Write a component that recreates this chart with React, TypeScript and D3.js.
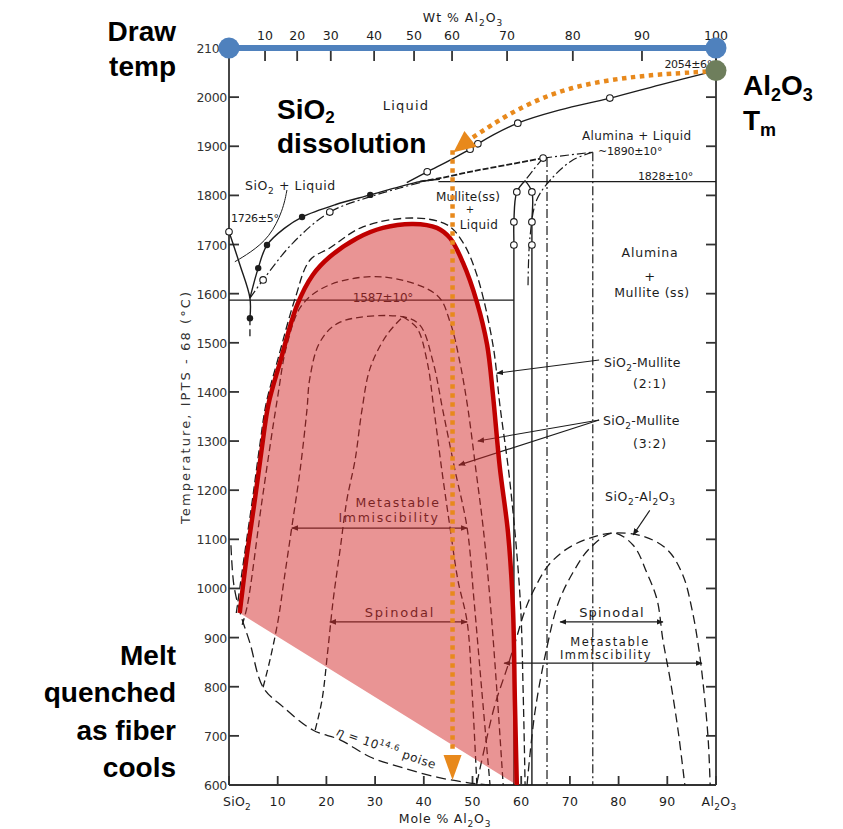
import React from "react";
import * as d3 from "d3";

type P = [number, number];

// ---- axes ----
const tempTicks = [600, 700, 800, 900, 1000, 1100, 1200, 1300, 1400, 1500, 1600, 1700, 1800, 1900, 2000, 2100];
const moleTicks = [0, 10, 20, 30, 40, 50, 60, 70, 80, 90, 100];
const moleTickLabels = ["SiO2", "10", "20", "30", "40", "50", "60", "70", "80", "90", "Al2O3"];
const wtTickLabels = ["10", "20", "30", "40", "50", "60", "70", "80", "90", "100"];
// positions of the wt% ticks on the mole % scale
const wtTickMole = [7.4, 14.0, 20.9, 29.8, 38.0, 45.8, 57.1, 70.6, 84.8, 100];

// ---- liquidus / solid phase boundaries (mole % Al2O3, °C) ----
const sio2Liquidus: P[] = [[0, 1726], [2.2, 1660], [4.3, 1591], [4.3, 1550]];
const eutecticTail: P[] = [[4.3, 1550], [4.3, 1508]];
const liquidusStable: P[] = [[4.3, 1591], [6.0, 1652], [7.8, 1699], [11.5, 1734], [15.0, 1756], [21.8, 1781], [29.0, 1801], [35.1, 1818], [39.2, 1828], [43.3, 1833]];
const liquidusMeta: P[] = [[4.3, 1591], [7.0, 1628], [13.1, 1703], [20.7, 1766], [28.9, 1797], [35.1, 1815], [39.2, 1826]];
const aluminaLiquidus: P[] = [[36.5, 1826], [40.7, 1848], [45.4, 1872], [49.5, 1894], [51.1, 1905], [59.3, 1947], [68, 1974], [78.2, 1998], [88.5, 2025], [100, 2054]];
const mulliteMetaLiquidus: P[] = [[39.2, 1828], [43.3, 1835], [50, 1849], [57, 1862], [64.5, 1876]];
const line1587: P[] = [[0, 1587], [58.5, 1587]];
const line1828: P[] = [[43, 1828], [100, 1828]];
const mulliteLeft: P[] = [[60.8, 1830], [59.1, 1807], [58.5, 1746], [58.5, 1699], [58.5, 600]];
const mulliteRight: P[] = [[60.8, 1830], [62.2, 1807], [62.2, 1746], [62.2, 1699], [62.2, 600]];
const dashDotV1: P[] = [[65.3, 1876], [65.3, 600]];
const dashDotV2: P[] = [[74.7, 1888], [74.7, 600]];
const dashDotTop: P[] = [[64.5, 1876], [74.7, 1888]];
const dashDotCurveA: P[] = [[74.7, 1888], [70.6, 1872], [66.5, 1837], [63.2, 1791], [61.8, 1715], [61.4, 1614]];
const dashDotCurveB: P[] = [[64.5, 1876], [62.5, 1852], [60.8, 1830]];
const sio2LiquidLeader: P[] = [[11.9, 1811], [11.1, 1770], [8.4, 1715], [4.3, 1683], [1.2, 1665]];
const filledDots: P[] = [[4.3, 1550], [6.0, 1652], [7.8, 1699], [15.0, 1756], [29.0, 1801]];
const openCircles: P[] = [[0, 1726], [7.0, 1628], [20.7, 1766], [40.7, 1848], [49.5, 1894], [51.1, 1905], [59.3, 1947], [78.2, 1998], [64.5, 1876], [59.1, 1807], [58.5, 1746], [58.5, 1699], [62.2, 1807], [62.2, 1746], [62.2, 1699]];

// ---- metastable immiscibility domes ----
const dome21: P[] = [[1.5, 950], [3.2, 1070], [4.8, 1180], [6.3, 1290], [7.6, 1375], [10.0, 1465], [13.6, 1591], [16.6, 1668], [20.7, 1693], [27.5, 1736], [37.8, 1754], [44.8, 1740], [48.0, 1705], [50.9, 1638], [54.2, 1496], [55.6, 1375], [57.7, 1215], [59.8, 977], [60.4, 790], [60.8, 600]];
const dome32a: P[] = [[2.7, 926], [3.7, 962], [6.8, 1180], [9.9, 1384], [11.9, 1496], [15.0, 1577], [20.7, 1618], [31.6, 1634], [42.7, 1597], [45.4, 1542], [47.4, 1461], [49.1, 1363], [50.7, 1241], [52.2, 1123], [53.6, 977], [55.0, 793], [56.3, 600]];
const dome32b: P[] = [[7.0, 799], [8.4, 854], [10.1, 936], [11.3, 1017], [12.9, 1125], [14.6, 1241], [16.0, 1363], [16.6, 1428], [18.7, 1502], [22.8, 1542], [35.7, 1553], [39.2, 1536], [41.9, 1461], [43.9, 1363], [46.4, 1241], [48.9, 1123], [50.3, 977], [51.9, 793], [53.6, 600]];
const spinodalLeftA: P[] = [[17.7, 712], [19.1, 773], [20.3, 875], [21.4, 977], [22.8, 1078], [24.2, 1180], [25.9, 1262], [27.3, 1363], [29.0, 1449], [32.4, 1516], [35.7, 1553]];
const spinodalRightA: P[] = [[35.7, 1553], [38.6, 1530], [40.7, 1461], [42.1, 1363], [43.7, 1241], [45.4, 1123], [47.0, 1017], [48.9, 932], [49.9, 793], [50.9, 600]];
const viscosity: P[] = [[0.4, 1088], [1.0, 1007], [2.3, 950], [4.3, 889], [7.0, 799], [11.1, 759], [17.2, 712], [22.8, 692], [29.0, 657], [35.7, 635], [42.7, 616], [49.5, 604], [53.6, 600]];
const aluminaDome: P[] = [[50.9, 604], [52.6, 681], [54.6, 763], [57.3, 844], [58.9, 895], [60.8, 956], [62.8, 1001], [65.5, 1046], [69.0, 1078], [73.1, 1099], [78.9, 1113], [85.4, 1105], [90.1, 1078], [93.2, 1027], [95.1, 956], [96.5, 875], [97.5, 793], [98.4, 692], [98.8, 600]];
const aluminaSpinodal: P[] = [[61.2, 600], [62.8, 747], [65.3, 881], [67.6, 970], [70.6, 1032], [74.1, 1082], [78.9, 1113], [83.0, 1088], [85.8, 1032], [87.9, 977], [89.1, 895], [90.6, 814], [92.2, 712], [93.6, 600]];

// ---- arrows & leaders ----
const immiscArrowL: P[] = [[12.9, 1123], [48.9, 1123]];
const spinodalArrowL: P[] = [[20.7, 932], [48.9, 932]];
const spinodalArrowR: P[] = [[68.0, 932], [89.1, 932]];
const immiscArrowR: P[] = [[56.5, 848], [97.1, 848]];
const leader21: P[] = [[76.0, 1465], [55.0, 1438]];
const leader32a: P[] = [[76.0, 1343], [51.1, 1300]];
const leader32b: P[] = [[76.0, 1343], [47.2, 1251]];
const leaderAl: P[] = [[86.4, 1159], [83.0, 1109]];

// ---- overlay annotations ----
const redBoundary: P[] = [[2.2, 950], [3.7, 1070], [5.3, 1180], [6.8, 1290], [8.1, 1375], [10.5, 1461], [14.0, 1577], [17.2, 1638], [20.7, 1675], [26.3, 1713], [31.6, 1734], [37.8, 1742], [42.7, 1734], [45.4, 1713], [48.0, 1664], [50.9, 1583], [53.0, 1496], [54.2, 1394], [55.6, 1247], [57.3, 1113], [58.3, 962], [58.7, 773], [59.1, 600]];
const drawTempLine: P[] = [[0, 2100], [100, 2100]];
const aluminaTm: P = [100, 2054];
const dissolutionArc: P[] = [[100, 2053], [68.1, 2035], [49.6, 1915]];
const dissolutionTip: P = [46.1, 1888];
const quenchLine: P[] = [[45.9, 1892], [45.9, 665]];
const quenchTip: P = [45.9, 610];

const x = d3.scaleLinear().domain([0, 100]).range([229, 716]);
const y = d3.scaleLinear().domain([600, 2100]).range([785, 48]);
const smooth = d3.line<P>().x((d) => x(d[0])).y((d) => y(d[1])).curve(d3.curveCatmullRom.alpha(0.5));
const straight = d3.line<P>().x((d) => x(d[0])).y((d) => y(d[1]));
const bez = d3.line<P>().x((d) => x(d[0])).y((d) => y(d[1])).curve(d3.curveBasis);

const INK = "#1c1c1c";
const FONT = "'DejaVu Sans', sans-serif";
const BOLD = "'Liberation Sans', Arial, sans-serif";
const ORANGE = "#e8891c";

// digits following a letter become subscripts
const chem = (s: string, fs: number) => {
  const parts = s.split(/(\d+)/).filter((p) => p !== "");
  let shifted = false;
  return parts.map((p, i) => {
    const isSub = /^\d+$/.test(p) && i > 0 && /[A-Za-z]$/.test(parts[i - 1]);
    let dy = 0;
    if (isSub && !shifted) {
      dy = fs * 0.3;
      shifted = true;
    } else if (!isSub && shifted) {
      dy = -fs * 0.3;
      shifted = false;
    }
    return (
      <tspan key={i} dy={dy} fontSize={isSub ? fs * 0.72 : fs}>
        {p}
      </tspan>
    );
  });
};

const Label = ({ x: lx, y: ly, s, fs = 12.5, anchor = "start", ls = 0.8 }: any) => (
  <text x={lx} y={ly} fontSize={fs} textAnchor={anchor} fontFamily={FONT} fill={INK} letterSpacing={ls}>
    {chem(s, fs)}
  </text>
);

export default function App() {
  const dash = { fill: "none", stroke: INK, strokeWidth: 1.3, strokeDasharray: "7 4" };
  const dashDot = { fill: "none", stroke: INK, strokeWidth: 1.2, strokeDasharray: "9 3 2 3" };
  const solid = { fill: "none", stroke: INK, strokeWidth: 1.4 };

  // arrowhead of the curved orange arrow
  const tx = x(dissolutionTip[0]);
  const ty = y(dissolutionTip[1]);
  const last = dissolutionArc[dissolutionArc.length - 1];
  const bx = x(last[0]);
  const by = y(last[1]);
  const len = Math.hypot(bx - tx, by - ty);
  const nx = -(by - ty) / len;
  const ny = (bx - tx) / len;
  const arcHead = `M${tx},${ty}L${bx + nx * 10},${by + ny * 10}L${bx - nx * 10},${by - ny * 10}Z`;

  const qx = x(quenchTip[0]);
  const qy = y(quenchTip[1]);
  const quenchHead = `M${qx},${qy}L${qx - 9},${qy - 25}L${qx + 9},${qy - 25}Z`;

  return (
    <svg width={843} height={829} style={{ position: "absolute", left: 0, top: 0, background: "#fff" }}>
      <defs>
        <marker id="ah" viewBox="0 0 10 10" refX="9" refY="5" markerWidth="7" markerHeight="7" markerUnits="userSpaceOnUse" orient="auto-start-reverse">
          <path d="M0,1L10,5L0,9Z" fill={INK} />
        </marker>
      </defs>

      {/* axes */}
      <g stroke="#333" strokeWidth={1.8} fill="none">
        <line x1={x(0)} x2={x(0)} y1={y(2100)} y2={y(600)} />
        <line x1={x(100)} x2={x(100)} y1={y(2100)} y2={y(600)} />
        <line x1={x(0)} x2={x(100)} y1={y(600)} y2={y(600)} />
        {tempTicks.map((t) => (
          <line key={"l" + t} x1={x(0)} x2={x(0) + 10} y1={y(t)} y2={y(t)} />
        ))}
        {tempTicks.map((t) => (
          <line key={"r" + t} x1={x(100)} x2={x(100) - 10} y1={y(t)} y2={y(t)} />
        ))}
        {moleTicks.map((m) => (
          <line key={"b" + m} x1={x(m)} x2={x(m)} y1={y(600)} y2={y(600) - 9} />
        ))}
        {wtTickMole.map((m) => (
          <line key={"t" + m} x1={x(m)} x2={x(m)} y1={y(2100)} y2={y(2100) + 13} />
        ))}
      </g>
      {tempTicks.map((t) => (
        <text key={"lt" + t} x={x(0) - 2} y={y(t) + 5} fontSize={12.5} textAnchor="end" fontFamily={FONT} fill="#333" letterSpacing={-0.3}>
          {t}
        </text>
      ))}
      {moleTicks.map((m, i) => (
        <Label key={"bt" + m} x={x(m) + (i === 0 ? 8 : i === 10 ? 3 : 0)} y={806} s={moleTickLabels[i]} fs={12.5} anchor="middle" ls={0.3} />
      ))}
      {wtTickMole.map((m, i) => (
        <Label key={"tt" + m} x={x(m)} y={40} s={wtTickLabels[i]} fs={12.5} anchor="middle" ls={0} />
      ))}
      <Label x={463} y={22} s="Wt % Al2O3" fs={12.5} anchor="middle" ls={1} />
      <Label x={445} y={823} s="Mole % Al2O3" fs={12.5} anchor="middle" ls={0.8} />
      <text transform="translate(190,408) rotate(-90)" fontSize={13} textAnchor="middle" fontFamily={FONT} fill="#333" textLength={232} lengthAdjust="spacing">
        Temperature, IPTS - 68 (°C)
      </text>

      {/* phase boundaries */}
      <path d={straight(line1587) || ""} {...solid} strokeWidth={1.2} />
      <path d={straight(line1828) || ""} {...solid} strokeWidth={1.2} />
      <path d={smooth(sio2Liquidus) || ""} {...solid} />
      <path d={straight(eutecticTail) || ""} {...dash} />
      <path d={smooth(liquidusStable) || ""} {...solid} />
      <path d={smooth(liquidusMeta) || ""} {...dashDot} />
      <path d={smooth(aluminaLiquidus) || ""} {...solid} />
      <path d={smooth(mulliteMetaLiquidus) || ""} fill="none" stroke={INK} strokeWidth={1.8} strokeDasharray="6 2" />
      <path d={smooth(mulliteLeft) || ""} {...solid} />
      <path d={smooth(mulliteRight) || ""} {...solid} />
      <path d={straight(dashDotV1) || ""} {...dashDot} />
      <path d={straight(dashDotV2) || ""} {...dashDot} />
      <path d={straight(dashDotTop) || ""} {...dashDot} />
      <path d={smooth(dashDotCurveA) || ""} {...dashDot} />
      <path d={smooth(dashDotCurveB) || ""} {...dashDot} />
      <path d={bez(sio2LiquidLeader) || ""} fill="none" stroke={INK} strokeWidth={1} />
      {filledDots.map((d, i) => (
        <circle key={"fd" + i} cx={x(d[0])} cy={y(d[1])} r={3.2} fill={INK} />
      ))}
      {openCircles.map((d, i) => (
        <circle key={"oc" + i} cx={x(d[0])} cy={y(d[1])} r={3.3} fill="#fff" stroke={INK} strokeWidth={1.1} />
      ))}

      {/* metastable immiscibility */}
      <path d={smooth(dome21) || ""} {...dash} strokeDasharray="8 4" />
      <path d={smooth(dome32a) || ""} {...dash} />
      <path d={smooth(dome32b) || ""} {...dash} />
      <path d={smooth(spinodalLeftA) || ""} {...dash} />
      <path d={smooth(spinodalRightA) || ""} {...dash} />
      <path d={smooth(viscosity) || ""} {...dash} strokeDasharray="10 5" />
      <path d={smooth(aluminaDome) || ""} {...dash} strokeDasharray="9 5" />
      <path d={smooth(aluminaSpinodal) || ""} {...dash} strokeDasharray="9 5" />

      {[immiscArrowL, spinodalArrowL, spinodalArrowR, immiscArrowR].map((a, i) => (
        <path key={"ar" + i} d={straight(a) || ""} stroke={INK} strokeWidth={1.3} fill="none" markerStart="url(#ah)" markerEnd="url(#ah)" />
      ))}
      {[leader21, leader32a, leader32b, leaderAl].map((a, i) => (
        <path key={"ld" + i} d={straight(a) || ""} stroke={INK} strokeWidth={1.1} fill="none" markerEnd="url(#ah)" />
      ))}

      {/* diagram labels */}
      <Label x={406} y={110} s="Liquid" fs={13} anchor="middle" ls={1.2} />
      <Label x={245} y={190} s="SiO2 + Liquid" fs={12.5} ls={0.6} />
      <Label x={231} y={222} s="1726±5°" fs={11} ls={-0.3} />
      <Label x={582} y={140} s="Alumina + Liquid" fs={12} ls={0.4} />
      <Label x={598} y={155} s="~1890±10°" fs={11} ls={-0.2} />
      <Label x={638} y={180} s="1828±10°" fs={11} ls={-0.2} />
      <Label x={712} y={68} s="2054±6°" fs={11} anchor="end" ls={-0.3} />
      <Label x={468} y={201} s="Mullite(ss)" fs={12} anchor="middle" ls={0.2} />
      <Label x={470} y={213} s="+" fs={10} anchor="middle" ls={0} />
      <Label x={479} y={229} s="Liquid" fs={12} anchor="middle" ls={0.4} />
      <Label x={650} y={257} s="Alumina" fs={12.5} anchor="middle" ls={0.8} />
      <Label x={650} y={281} s="+" fs={13} anchor="middle" />
      <Label x={652} y={297} s="Mullite (ss)" fs={12.5} anchor="middle" ls={0.6} />
      <Label x={383} y={302} s="1587±10°" fs={12} anchor="middle" ls={-0.2} />
      <Label x={604} y={367} s="SiO2-Mullite" fs={12.5} ls={0.3} />
      <Label x={650} y={388} s="(2:1)" fs={12.5} anchor="middle" ls={0.8} />
      <Label x={603} y={425} s="SiO2-Mullite" fs={12.5} ls={0.3} />
      <Label x={650} y={448} s="(3:2)" fs={12.5} anchor="middle" ls={0.8} />
      <Label x={605} y={501} s="SiO2-Al2O3" fs={12.5} ls={0.6} />
      <Label x={398} y={507} s="Metastable" fs={12.5} anchor="middle" ls={1.6} />
      <Label x={389} y={522} s="Immiscibility" fs={12.5} anchor="middle" ls={1.7} />
      <Label x={400} y={617} s="Spinodal" fs={13} anchor="middle" ls={1.8} />
      <Label x={612} y={617} s="Spinodal" fs={13} anchor="middle" ls={1.2} />
      <Label x={610} y={646} s="Metastable" fs={11.5} anchor="middle" ls={1.6} />
      <Label x={606} y={659} s="Immiscibility" fs={11.5} anchor="middle" ls={1.5} />
      <text transform="translate(385,752) rotate(19)" fontSize={12} textAnchor="middle" fontFamily={FONT} fill={INK} letterSpacing={0.6}>
        <tspan fontStyle="italic">η</tspan>
        <tspan> = 10</tspan>
        <tspan dy={-5} fontSize={8.5}>14.6</tspan>
        <tspan dy={5}> poise</tspan>
      </text>

      {/* highlighted region */}
      <path d={(smooth(redBoundary) || "") + "Z"} fill="#d42a2a" fillOpacity={0.5} stroke="none" />
      <path d={smooth(redBoundary) || ""} fill="none" stroke="#c00000" strokeWidth={4.5} />

      {/* orange arrows */}
      <path d={bez(dissolutionArc) || ""} fill="none" stroke={ORANGE} strokeWidth={4.5} strokeDasharray="4.5 4.5" />
      <path d={arcHead} fill={ORANGE} />
      <path d={straight(quenchLine) || ""} fill="none" stroke={ORANGE} strokeWidth={4.5} strokeDasharray="4.5 4.5" />
      <path d={quenchHead} fill={ORANGE} />

      {/* draw temperature */}
      <path d={straight(drawTempLine) || ""} stroke="#4f81bd" strokeWidth={6} fill="none" />
      {drawTempLine.map((d, i) => (
        <circle key={"bd" + i} cx={x(d[0])} cy={y(d[1])} r={10.5} fill="#4f81bd" />
      ))}
      <circle cx={x(aluminaTm[0])} cy={y(aluminaTm[1])} r={10.5} fill="#6e7e5c" />

      {/* annotations */}
      <g fontFamily={BOLD} fontWeight="bold" fontSize={28} fill="#000">
        <text x={176} y={41} textAnchor="end">Draw</text>
        <text x={176} y={76} textAnchor="end">temp</text>
        <text x={277} y={119}>
          <tspan>SiO</tspan>
          <tspan dy={4} fontSize={17}>2</tspan>
        </text>
        <text x={277} y={153}>dissolution</text>
        <text x={743} y={95}>
          <tspan>Al</tspan>
          <tspan dy={6} fontSize={18}>2</tspan>
          <tspan dy={-6}>O</tspan>
          <tspan dy={6} fontSize={18}>3</tspan>
        </text>
        <text x={743} y={130}>
          <tspan>T</tspan>
          <tspan dy={6} fontSize={18}>m</tspan>
        </text>
        <text x={176} y={665} textAnchor="end">Melt</text>
        <text x={176} y={702} textAnchor="end">quenched</text>
        <text x={176} y={740} textAnchor="end">as fiber</text>
        <text x={176} y={777} textAnchor="end">cools</text>
      </g>
    </svg>
  );
}
